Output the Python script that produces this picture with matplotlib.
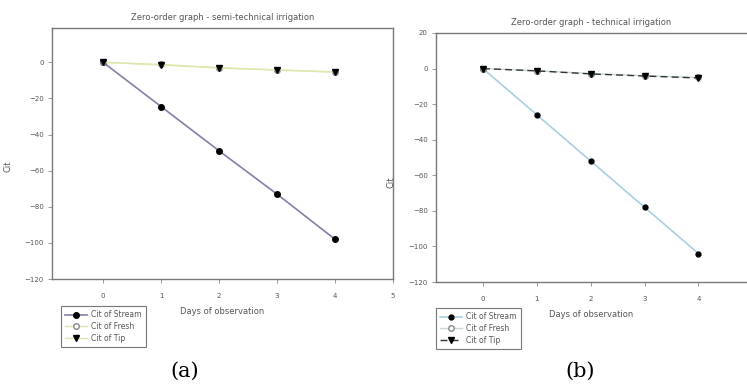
import numpy as np
import matplotlib.pyplot as plt

# Datos
days = [0, 1, 2, 3, 4]
stream_a = [0, -24.5, -49, -73, -98]
fresh_a = [0, -1.2, -3, -4.2, -5.3]
tip_a = [0, -1.5, -3.2, -4.3, -5.5]

stream_b = [0, -26, -52, -78, -104]
fresh_b = [0, -1.2, -2.8, -4.0, -5.0]
tip_b = [0, -1.3, -3.0, -4.2, -5.3]

labels = ['Cit of Stream', 'Cit of Fresh', 'Cit of Tip']
titles = ['Zero-order graph - semi-technical irrigation',
          'Zero-order graph - technical irrigation']
xticks_a = [0, 1, 2, 3, 4, 5]
xticks_b = [0, 1, 2, 3, 4]
yticks_a = [0, -20, -40, -60, -80, -100, -120]
yticks_b = [20, 0, -20, -40, -60, -80, -100, -120]

fig = plt.figure(figsize=(7.47, 3.85), dpi=100)
axa = fig.add_axes([0.0696, 0.2753, 0.4565, 0.652])
axb = fig.add_axes([0.5837, 0.2675, 0.4163, 0.6468])

txt = '#555555'

# Panel (a)
axa.plot(days, stream_a, color='#8080a8', lw=1.2, marker='o', ms=4,
         mfc='black', mec='black', label=labels[0])
axa.plot(days, fresh_a, color='#dfe6b0', lw=1.0, marker='o', ms=4,
         mfc='white', mec='#888888', label=labels[1])
axa.plot(days, tip_a, color='#dfe6b0', lw=1.0, marker='v', ms=4,
         mfc='black', mec='black', label=labels[2])
axa.set_xlim(-0.88, 5)
axa.set_ylim(-120, 19)
axa.set_xticks(xticks_a)
axa.set_yticks(yticks_a)

# Panel (b)
axb.plot(days, stream_b, color='#a8cfe0', lw=1.2, marker='o', ms=3.5,
         mfc='black', mec='black', label=labels[0])
axb.plot(days, fresh_b, color='#c8d8d8', lw=1.0, marker='o', ms=4,
         mfc='white', mec='#888888', label=labels[1])
axb.plot(days, tip_b, color='#333333', lw=1.0, ls=(0, (5, 3)), marker='v', ms=4,
         mfc='black', mec='black', label=labels[2])
axb.set_xlim(-0.87, 4.9)
axb.set_ylim(-120, 20)
axb.set_xticks(xticks_b)
axb.set_yticks(yticks_b)
axb.spines['right'].set_visible(False)

for ax, t in zip([axa, axb], titles):
    ax.set_title(t, fontsize=6, color=txt, pad=6)
    ax.set_xlabel('Days of observation', fontsize=6, color=txt, labelpad=6)
    ax.set_ylabel('Cit', fontsize=6, color=txt)
    ax.tick_params(labelsize=5, colors='#888888', labelcolor=txt,
                   length=3, width=0.6)
    ax.tick_params(axis='x', pad=7)
    ax.tick_params(axis='y', pad=3)
    for s in ax.spines.values():
        s.set_color('#777777')
        s.set_linewidth(1.0)

axa.yaxis.set_label_coords(-0.115, 0.45)
axb.yaxis.set_label_coords(-0.13, 0.4)

leg_a = fig.legend(handles=axa.get_lines(), labels=labels,
                   loc='upper left', bbox_to_anchor=(57/747, 1-302/385),
                   fontsize=5.5, frameon=True, fancybox=False,
                   edgecolor='#555555', handlelength=2.8, labelspacing=0.35,
                   borderpad=0.6, handletextpad=0.6)
leg_b = fig.legend(handles=axb.get_lines(), labels=labels,
                   loc='upper left', bbox_to_anchor=(432/747, 1-304/385),
                   fontsize=5.5, frameon=True, fancybox=False,
                   edgecolor='#555555', handlelength=2.8, labelspacing=0.35,
                   borderpad=0.6, handletextpad=0.6)
for leg in [leg_a, leg_b]:
    leg.get_frame().set_linewidth(0.8)
    for t in leg.get_texts():
        t.set_color(txt)

fig.text(185/747, 1-371/385, '(a)', fontsize=15, family='DejaVu Serif',
         ha='center', va='center')
fig.text(580/747, 1-371/385, '(b)', fontsize=15, family='DejaVu Serif',
         ha='center', va='center')

fig.savefig('out.png', dpi=100)
